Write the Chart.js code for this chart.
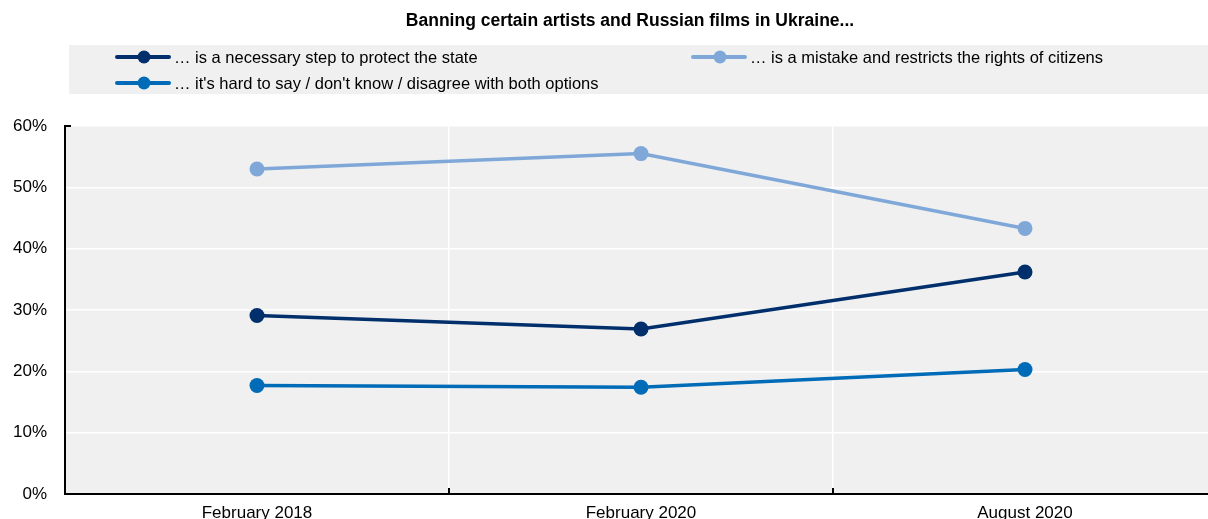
<!DOCTYPE html>
<html>
<head>
<meta charset="utf-8">
<script src="https://cdn.jsdelivr.net/npm/chart.js@4.4.1/dist/chart.umd.min.js"></script>
<style>
  html, body { margin: 0; padding: 0; background: #fff; overflow: hidden; }
  #wrap { position: relative; width: 1260px; height: 519px; }
</style>
</head>
<body>
<div id="wrap"><canvas id="chart"></canvas></div>
<script>
  const FONT = '"Liberation Sans Narrow", "Arial Narrow", "Liberation Sans", Arial, sans-serif';

  const chartTitle = 'Banning certain artists and Russian films in Ukraine...';
  const periods = ['February 2018', 'February 2020', 'August 2020'];
  const yTicks = [0, 10, 20, 30, 40, 50, 60];

  const seriesNames = [
    '… is a necessary step to protect the state',
    '… is a mistake and restricts the rights of citizens',
    "… it's hard to say / don't know / disagree with both options"
  ];
  const necessaryStep = [29.1, 26.9, 36.2];
  const mistake = [53.0, 55.5, 43.3];
  const hardToSay = [17.7, 17.4, 20.3];

  const colors = ['#002F6C', '#7FA8D9', '#006BB6'];

  // title, legend panel and the small inward tick marks
  const decorations = {
    id: 'decorations',
    beforeDraw(chart) {
      const { ctx, chartArea } = chart;
      ctx.save();
      ctx.fillStyle = '#f0f0f0';
      ctx.fillRect(chartArea.left, chartArea.top, chartArea.right - chartArea.left, chartArea.bottom - chartArea.top);
      ctx.restore();
    },
    afterDraw(chart) {
      const { ctx, chartArea, scales } = chart;
      ctx.save();
      // title
      ctx.fillStyle = '#000';
      ctx.font = 'bold 17.5px ' + FONT;
      ctx.textAlign = 'center';
      ctx.textBaseline = 'middle';
      ctx.fillText(chartTitle, 630, 21);

      // legend panel
      ctx.fillStyle = '#f0f0f0';
      ctx.fillRect(69, 45, chart.width - 69, 49);
      const slots = [
        { x: 117, y: 57 },
        { x: 693, y: 57 },
        { x: 117, y: 83 }
      ];
      chart.data.datasets.forEach((ds, i) => {
        const s = slots[i];
        ctx.strokeStyle = ds.borderColor;
        ctx.lineWidth = 4;
        ctx.lineCap = 'round';
        ctx.beginPath();
        ctx.moveTo(s.x, s.y);
        ctx.lineTo(s.x + 52, s.y);
        ctx.stroke();
        ctx.fillStyle = ds.borderColor;
        ctx.beginPath();
        ctx.arc(s.x + 27, s.y, 6.5, 0, Math.PI * 2);
        ctx.fill();
        ctx.fillStyle = '#000';
        ctx.font = '16.5px ' + FONT;
        ctx.textAlign = 'left';
        ctx.textBaseline = 'middle';
        ctx.fillText(ds.label, s.x + 57, s.y + 1);
      });

      // inward ticks on the axes
      ctx.strokeStyle = '#000';
      ctx.lineWidth = 2;
      ctx.lineCap = 'butt';
      const x = scales.x;
      for (let i = 1; i < periods.length; i++) {
        const bx = (x.getPixelForValue(i - 1) + x.getPixelForValue(i)) / 2;
        ctx.beginPath();
        ctx.moveTo(bx, chartArea.bottom);
        ctx.lineTo(bx, chartArea.bottom - 6);
        ctx.stroke();
      }
      ctx.beginPath();
      ctx.moveTo(chartArea.left, chartArea.top);
      ctx.lineTo(chartArea.left + 6, chartArea.top);
      ctx.stroke();
      ctx.restore();
    }
  };

  const makeSet = (label, data, color) => ({
    label: label,
    data: data,
    borderColor: color,
    backgroundColor: color,
    borderWidth: 3.5,
    pointRadius: 7.5,
    pointHoverRadius: 7.5,
    pointBorderWidth: 0,
    tension: 0
  });

  new Chart(document.getElementById('chart'), {
    type: 'line',
    data: {
      labels: periods,
      datasets: [
        makeSet(seriesNames[0], necessaryStep, colors[0]),
        makeSet(seriesNames[1], mistake, colors[1]),
        makeSet(seriesNames[2], hardToSay, colors[2])
      ]
    },
    options: {
      responsive: true,
      maintainAspectRatio: false,
      animation: false,
      layout: { padding: { top: 126, right: 43, bottom: 0, left: 0 } },
      plugins: {
        legend: { display: false },
        title: { display: false },
        tooltip: { enabled: false }
      },
      scales: {
        x: {
          offset: true,
          grid: { offset: true, color: '#ffffff', lineWidth: 1.5, drawTicks: false },
          border: { display: true, color: '#000', width: 2 },
          ticks: { color: '#000', font: { family: FONT, size: 17 }, padding: 9, maxRotation: 0 },
          afterFit(scale) {
            scale.height = 25;
            scale.paddingLeft = 0;
            scale.paddingRight = 0;
          }
        },
        y: {
          min: 0,
          max: 60,
          afterBuildTicks(scale) { scale.ticks = yTicks.map(v => ({ value: v })); },
          grid: { color: '#ffffff', lineWidth: 1.5, drawTicks: false },
          border: { display: true, color: '#000', width: 2 },
          ticks: {
            color: '#000',
            font: { family: FONT, size: 17 },
            padding: 18,
            callback: v => v + '%'
          },
          afterFit(scale) {
            scale.width = 65;
            scale.paddingTop = 0;
            scale.paddingBottom = 0;
          }
        }
      }
    },
    plugins: [decorations]
  });
</script>
</body>
</html>
